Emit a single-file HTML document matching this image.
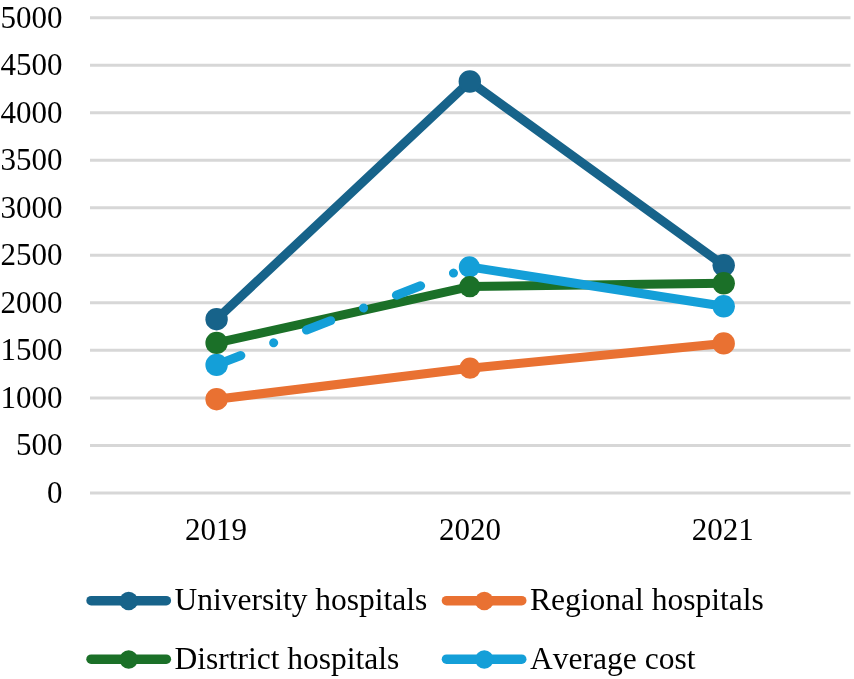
<!DOCTYPE html>
<html>
<head>
<meta charset="utf-8">
<title>Chart</title>
<style>
html,body{margin:0;padding:0;background:#fff;}
body{width:854px;height:679px;overflow:hidden;}
svg{display:block;will-change:transform;}
text{font-family:"Liberation Serif",serif;font-size:31.5px;fill:#000;font-kerning:none;}
.ax text{font-size:31px;}
</style>
</head>
<body>
<svg width="854" height="679" viewBox="0 0 854 679">
<rect x="0" y="0" width="854" height="679" fill="#ffffff"/>
<!-- gridlines -->
<g stroke="#d7d7d7" stroke-width="3" stroke-linecap="butt">
<line x1="90" x2="850.5" y1="17.8" y2="17.8"/>
<line x1="90" x2="850.5" y1="65.31" y2="65.31"/>
<line x1="90" x2="850.5" y1="112.82" y2="112.82"/>
<line x1="90" x2="850.5" y1="160.33" y2="160.33"/>
<line x1="90" x2="850.5" y1="207.84" y2="207.84"/>
<line x1="90" x2="850.5" y1="255.35" y2="255.35"/>
<line x1="90" x2="850.5" y1="302.86" y2="302.86"/>
<line x1="90" x2="850.5" y1="350.37" y2="350.37"/>
<line x1="90" x2="850.5" y1="397.88" y2="397.88"/>
<line x1="90" x2="850.5" y1="445.39" y2="445.39"/>
<line x1="90" x2="850.5" y1="492.9" y2="492.9"/>
</g>
<!-- y axis labels -->
<g class="ax" text-anchor="end">
<text x="62.5" y="27.5">5000</text>
<text x="62.5" y="75">4500</text>
<text x="62.5" y="122.5">4000</text>
<text x="62.5" y="170">3500</text>
<text x="62.5" y="217.5">3000</text>
<text x="62.5" y="265.1">2500</text>
<text x="62.5" y="312.6">2000</text>
<text x="62.5" y="360.1">1500</text>
<text x="62.5" y="407.6">1000</text>
<text x="62.5" y="455.1">500</text>
<text x="62.5" y="502.6">0</text>
</g>
<!-- x axis labels -->
<g class="ax" text-anchor="middle">
<text x="216" y="540">2019</text>
<text x="470" y="540">2020</text>
<text x="722.8" y="540">2021</text>
</g>
<!-- series lines -->
<g fill="none" stroke-width="9" stroke-linecap="round" stroke-linejoin="round">
<polyline stroke="#17638a" points="216.6,319.2 469.8,81.5 723.7,265.3"/>
<polyline stroke="#e97132" points="216.6,399.2 470,368.2 723.7,343.4"/>
<polyline stroke="#1b7028" points="216.6,342.9 469.8,286.6 723.7,283.3"/>
<line stroke="#149fd8" x1="216.6" y1="364.9" x2="469.4" y2="266.9" stroke-dasharray="26 35.2 0.01 35.2"/>
<line stroke="#149fd8" x1="469.4" y1="266.9" x2="723.7" y2="306.3"/>
</g>
<!-- markers -->
<g fill="#17638a"><circle cx="216.6" cy="319.2" r="11.2"/><circle cx="469.8" cy="81.5" r="11.2"/><circle cx="723.7" cy="265.3" r="11.2"/></g>
<g fill="#e97132"><circle cx="216.6" cy="399.2" r="11.2"/><circle cx="470" cy="368.2" r="10.6"/><circle cx="723.7" cy="343.4" r="11.2"/></g>
<g fill="#149fd8"><circle cx="216.6" cy="364.9" r="11.2"/><circle cx="469.4" cy="266.9" r="10.6"/><circle cx="723.7" cy="306.3" r="11.2"/></g>
<g fill="#1b7028"><circle cx="216.6" cy="342.9" r="11.2"/><circle cx="469.8" cy="286.7" r="10.6"/><circle cx="723.7" cy="283.3" r="11.2"/></g>
<!-- legend -->
<g stroke-width="9.6" stroke-linecap="round">
<line x1="91.1" x2="166.3" y1="600.7" y2="600.7" stroke="#17638a"/>
<line x1="446.5" x2="521.7" y1="600.7" y2="600.7" stroke="#e97132"/>
<line x1="91.1" x2="166.3" y1="659.2" y2="659.2" stroke="#1b7028"/>
<line x1="446.5" x2="521.7" y1="659.2" y2="659.2" stroke="#149fd8"/>
</g>
<circle cx="128.7" cy="601" r="9.3" fill="#17638a"/>
<circle cx="484.3" cy="601" r="9.3" fill="#e97132"/>
<circle cx="128.7" cy="659.5" r="9.3" fill="#1b7028"/>
<circle cx="484.3" cy="659.5" r="9.3" fill="#149fd8"/>
<text x="174.5" y="610.4">University hospitals</text>
<text x="530.1" y="610.4">Regional hospitals</text>
<text x="174.5" y="668.5">Disrtrict hospitals</text>
<text x="530.1" y="668.5">Average cost</text>
</svg>
</body>
</html>
